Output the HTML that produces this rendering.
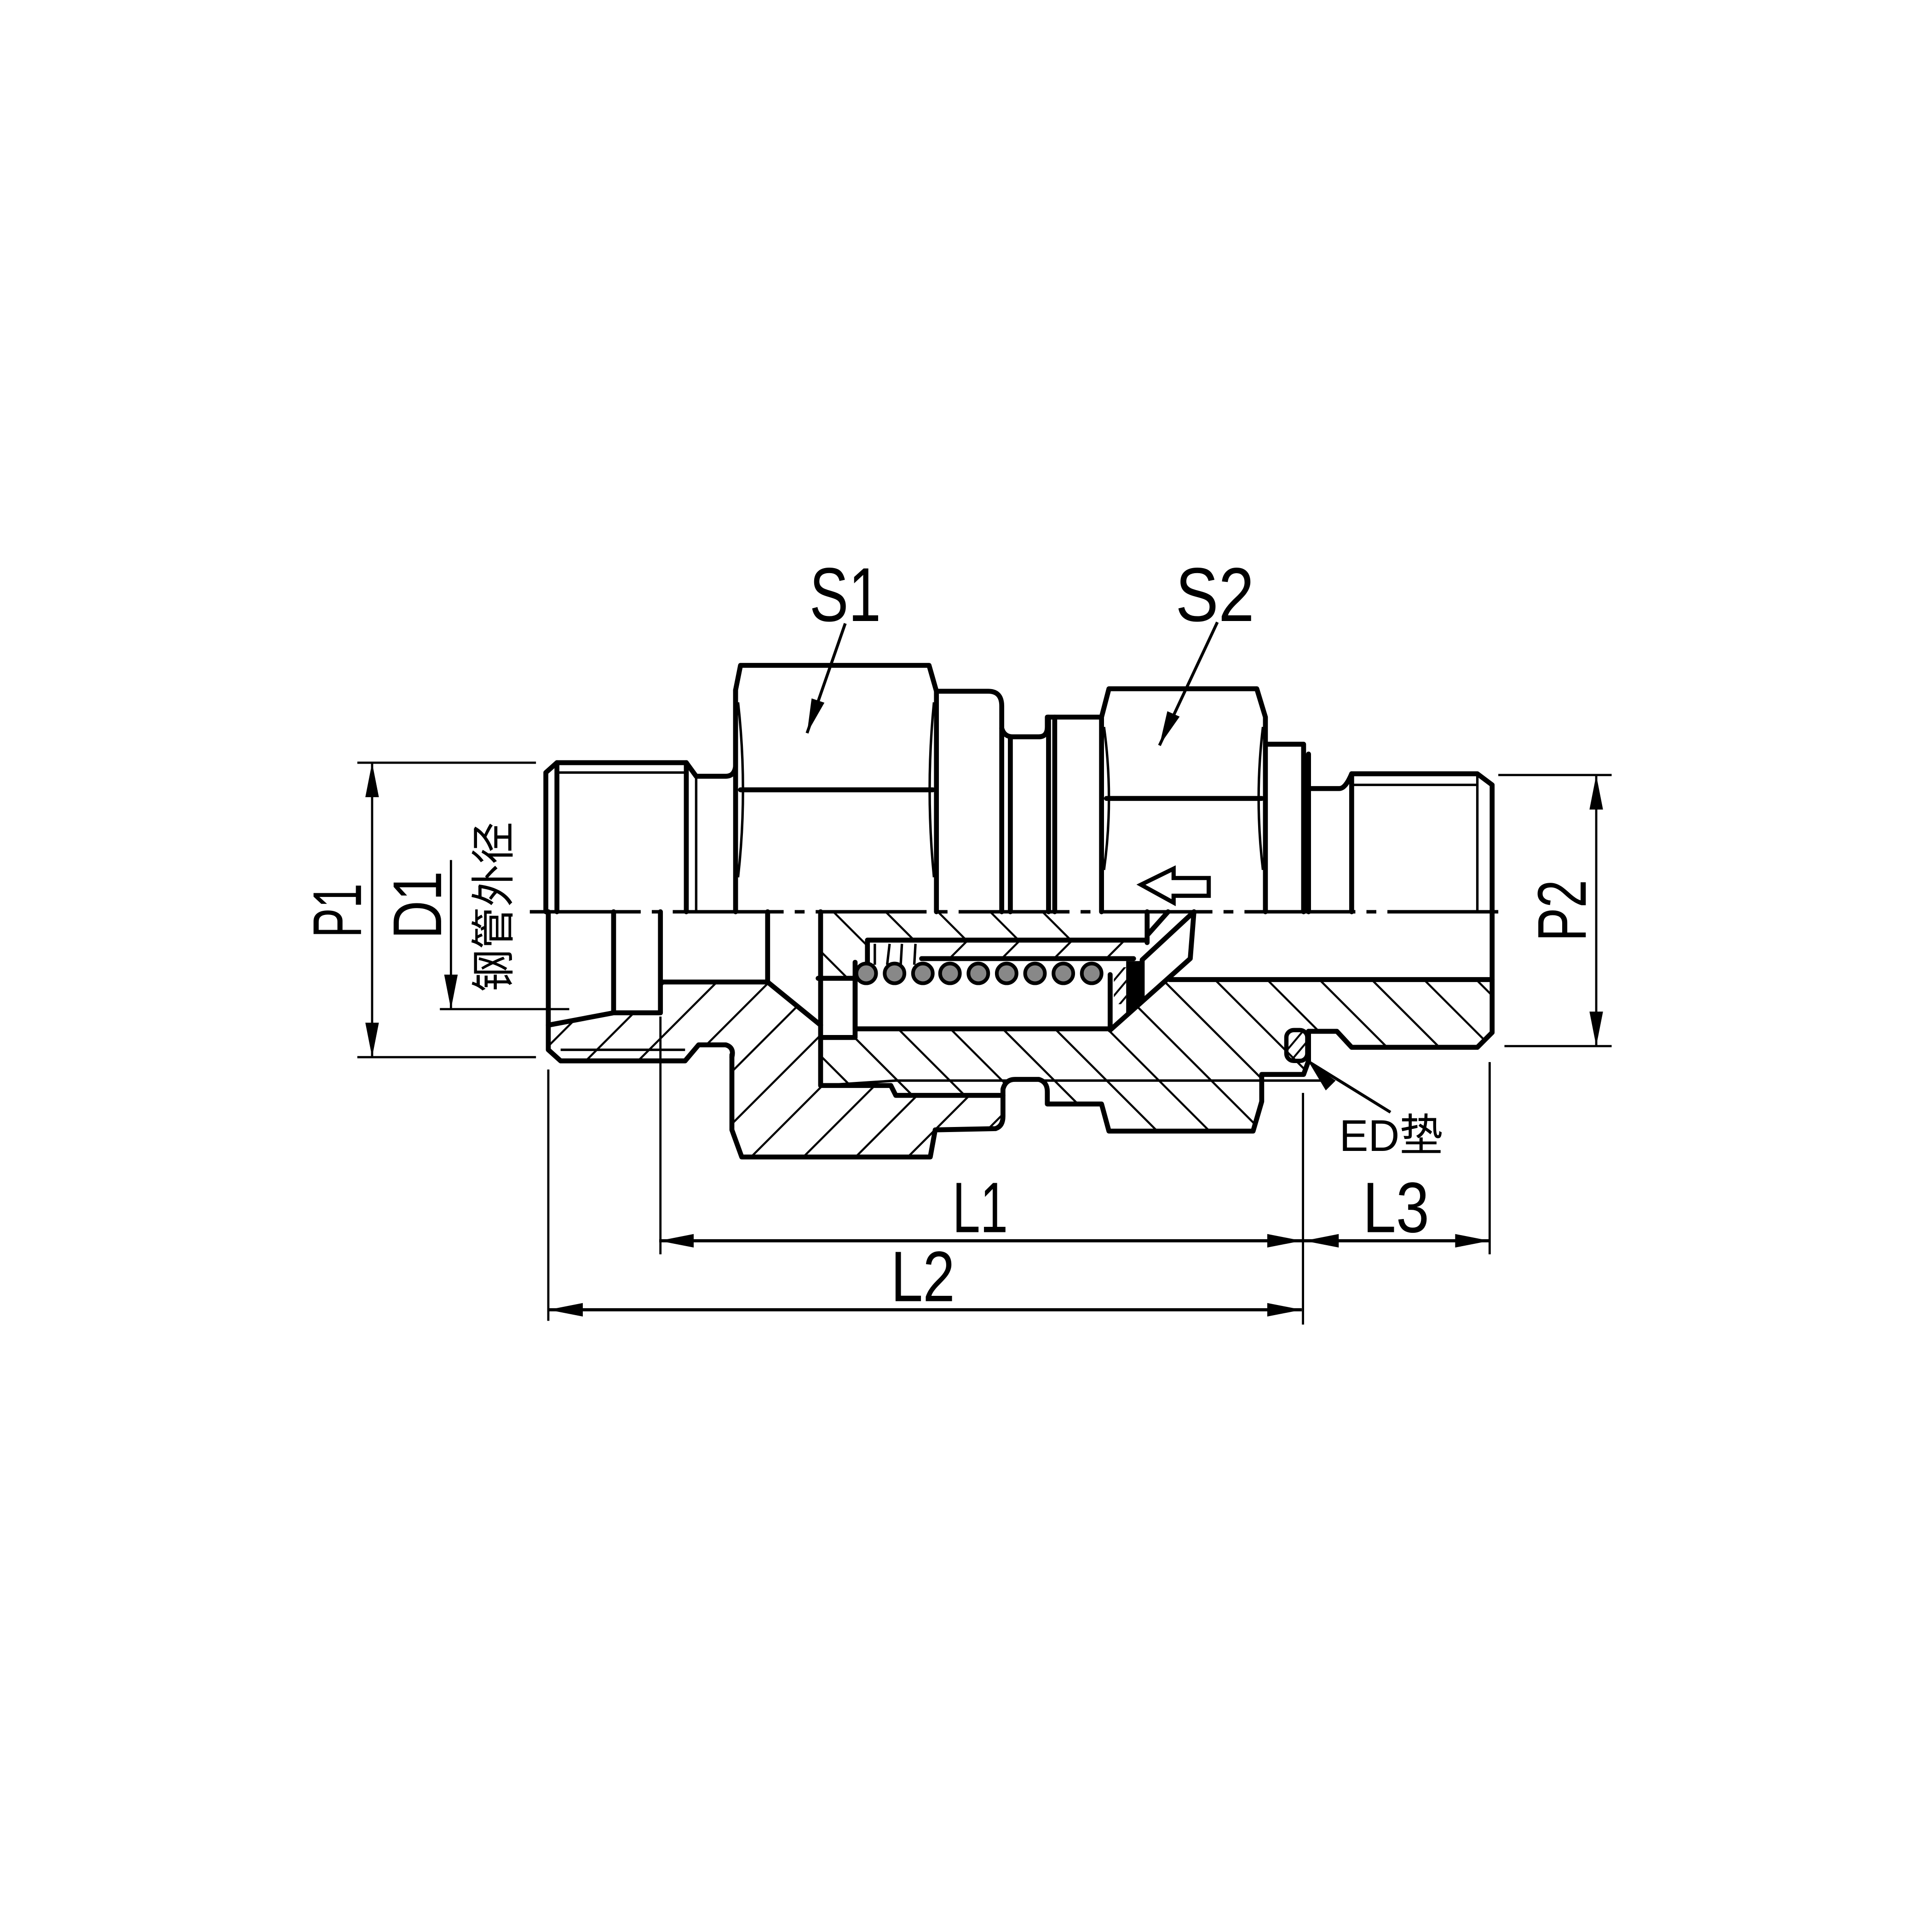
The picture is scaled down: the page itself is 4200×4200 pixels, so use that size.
<!DOCTYPE html>
<html><head><meta charset="utf-8"><style>html,body{margin:0;padding:0;background:#fff}svg{display:block}</style></head>
<body>
<svg xmlns="http://www.w3.org/2000/svg" width="4200" height="4200" viewBox="0 0 1568 1568">
<defs>
<pattern id="hb" patternUnits="userSpaceOnUse" width="30" height="30" patternTransform="rotate(45)"><line x1="-1" y1="15" x2="31" y2="15" stroke="#000" stroke-width="1.7"/></pattern>
<pattern id="hf" patternUnits="userSpaceOnUse" width="30" height="30" patternTransform="rotate(-45)"><line x1="-1" y1="15" x2="31" y2="15" stroke="#000" stroke-width="1.7"/></pattern>
<pattern id="hs" patternUnits="userSpaceOnUse" width="8" height="8" patternTransform="rotate(-50)"><line x1="-1" y1="4" x2="9" y2="4" stroke="#000" stroke-width="1.6"/></pattern>
</defs>
<rect width="1568" height="1568" fill="#fff"/>

<polygon fill="url(#hf)" points="447,831 498,822 536,822 536,797 623,797 666,832 666,881 723,881 727,889 814,889 814,912 808,916 759,917 755,939 602,939 594,917 594,856 589,848 567,848 556,861 455,861 445,852"/>
<polygon fill="url(#hb)" points="666,740 871,740 871,763 704,763 704,781 694,781 694,794 666,794"/>
<polygon fill="url(#hb)" points="666,842 693,842 693,835 901,835 949,795 1211,795 1211,838 1199,850 1097,850 1085,837 1062,837 1062,861 1058,872 1024,872 1024,894 1017,918 900,918 894,896 850,896 850,880 845,876 821,876 814,884 814,889 727,889 723,881 666,881"/>
<polygon fill="url(#hf)" points="748,764 930,764 920,778 748,778"/>
<rect x="904" y="785" width="10" height="30" fill="url(#hs)"/>
<polygon fill="#000" points="914,780 927,780 927,812 914,822"/>

<g fill="none" stroke="#000" stroke-width="4" stroke-linejoin="round" stroke-linecap="round">
<path d="M443,740 L443,627 L452,619 L557,619 L565,630 L589,630 Q596,630 597,622"/>
<path d="M452,619 L452,740 M557,619 L557,740"/>
<path d="M445,740 L445,852 L455,861 L556,861 L567,848 L589,848 Q596,850 594,858"/>
<path d="M498,740 L498,822 M536,740 L536,822 M445,832 L498,822 L536,822"/>
<path d="M537,797 L623,797 L666,832 M623,740 L623,797"/>
<path d="M597,622 L597,560 L601,540 L754,540 L760,561 L760,740"/>
<path d="M597,560 L597,740 M601,641 L757,641"/>
<path d="M760,561 L802,561 Q813,561 813,573 L813,591 Q815,598 822,598 L843,598 Q850,598 850,590 L850,582 L894,582"/>
<path d="M813,591 L813,740 M820,598 L820,740 M851,582 L851,740 M856,582 L856,740"/>
<path d="M894,740 L894,582 L900,559 L1020,559 L1027,582 L1027,740"/>
<path d="M898,648 L1024,648"/>
<path d="M1027,604 L1058,604 L1058,740 M1062,612 L1062,740"/>
<path d="M1062,640 L1087,640 Q1092,640 1097,628 L1199,628 L1211,637 L1211,838 L1199,850 L1097,850 L1085,837 L1062,837"/>
<path d="M1097,628 L1097,740"/>
<path d="M594,856 L594,917 L602,939 L755,939 L759,917 L808,916 Q814,914 814,906 L814,884 Q816,876 824,876 L843,876 Q850,878 850,886 L850,896 L894,896 L900,918 L1017,918 L1024,894 L1024,872 L1058,872 L1062,861 L1062,837"/>
<path d="M666,740 L666,881 L723,881 L727,889 L814,889"/>
<path d="M949,795 L1211,795"/>
<path d="M664,794 L694,794 L694,842 L666,842"/>
<path d="M694,781 L694,835 L901,835 L901,791"/>
<path d="M704,763 L930,763 M704,763 L704,781 M748,778 L920,778"/>
<path d="M969,740 L966,778 L901,836"/>
<path d="M969,740 L927,779 L927,812"/>
<path d="M931,740 L931,765 M948,740 L932,758"/>
</g>
<g fill="none" stroke="#000" stroke-width="2">
<path d="M452,627 L557,627 M565,630 L565,740 M1097,637 L1199,637 M1199,628 L1199,740 M455,852 L556,852"/>
<path d="M599,570 Q607,641 599,712 M758,570 Q751,641 758,712 M896,590 Q904,648 896,706 M1025,590 Q1018,648 1025,706"/>
<path d="M666,881 L727,877 L1080,877"/>
<path d="M710,766 L710,783 M722,766 L720,783 M732,766 L731,783 M743,766 L742,783"/>
</g>
<g stroke="#000" stroke-width="3" fill="#888">
<circle cx="703" cy="790" r="8"/><circle cx="726" cy="790" r="8"/><circle cx="749" cy="790" r="8"/><circle cx="771" cy="790" r="8"/><circle cx="794" cy="790" r="8"/><circle cx="817" cy="790" r="8"/><circle cx="840" cy="790" r="8"/><circle cx="863" cy="790" r="8"/><circle cx="886" cy="790" r="8"/>
</g>
<rect x="1044" y="836" width="17" height="25" rx="6" fill="url(#hs)" stroke="#000" stroke-width="3.5"/>
<polygon points="926,718 952.5,705 952.5,712.6 981,712.6 981,727 952.5,727 952.5,732.6" fill="#fff" stroke="#000" stroke-width="3.4" stroke-linejoin="miter"/>
<line x1="430" y1="740" x2="1218" y2="740" stroke="#000" stroke-width="2.8" stroke-dasharray="90 9 8 9"/>

<g stroke="#000" stroke-width="1.8" fill="none">
<path d="M290,619 L435,619 M290,858 L435,858 M302,619 L302,858"/>
<path d="M366,698 L366,819 M357,819 L462,819"/>
<path d="M1216,629 L1308,629 M1221,849 L1308,849 M1295.5,629 L1295.5,849"/>
<path d="M535,1007 L1209,1007 M445,1063 L1056.5,1063" stroke-width="2.6"/>
<path d="M445,868 L445,1072 M536,825 L536,1018 M1057.5,887 L1057.5,1075 M1209,862 L1209,1018"/>
<path d="M686,506 L655,595 M988,505 L941,605 M1128.5,902.7 L1062,861.6" stroke-width="2.4"/>
</g>
<g fill="#000">
<polygon points="302,619 296.5,647 307.5,647"/><polygon points="302,858 296.5,830 307.5,830"/>
<polygon points="366,819 360.5,791 371.5,791"/>
<polygon points="1295.5,629 1290,657 1301,657"/><polygon points="1295.5,849 1290,821 1301,821"/>
<polygon points="535,1007 563,1001.5 563,1012.5"/><polygon points="1056.5,1007 1028.5,1001.5 1028.5,1012.5"/>
<polygon points="1058.5,1007 1086.5,1001.5 1086.5,1012.5"/><polygon points="1209,1007 1181,1001.5 1181,1012.5"/>
<polygon points="1056.5,1063 1028.5,1057.5 1028.5,1068.5"/><polygon points="445,1063 473,1057.5 473,1068.5"/>
<polygon points="655,595 669.1,570.3 658.7,566.8"/>
<polygon points="941,605 957.4,581.6 947.4,577.2"/>
<polygon points="1062,861.6 1084,877 1076,885"/>
</g>

<g font-family="'Liberation Sans','Noto Sans CJK SC',sans-serif" fill="#000">
<text x="657" y="504" font-size="62" textLength="58" lengthAdjust="spacingAndGlyphs">S1</text>
<text x="954" y="504" font-size="62" textLength="64" lengthAdjust="spacingAndGlyphs">S2</text>
<text x="773" y="1000" font-size="58" textLength="45" lengthAdjust="spacingAndGlyphs">L1</text>
<text x="1106" y="1000" font-size="58" textLength="54" lengthAdjust="spacingAndGlyphs">L3</text>
<text x="723" y="1056" font-size="58" textLength="52" lengthAdjust="spacingAndGlyphs">L2</text>
<text transform="translate(293,761) rotate(-90)" font-size="56" textLength="44" lengthAdjust="spacingAndGlyphs">P1</text>
<text transform="translate(358,762) rotate(-90)" font-size="56" textLength="55" lengthAdjust="spacingAndGlyphs">D1</text>
<text transform="translate(1287,764) rotate(-90)" font-size="56" textLength="50" lengthAdjust="spacingAndGlyphs">P2</text>
<text transform="translate(413,805) rotate(-90)" font-size="36" textLength="138" lengthAdjust="spacingAndGlyphs">钢管外径</text>
<text x="1087" y="934" font-size="36" textLength="84" lengthAdjust="spacingAndGlyphs">ED垫</text>
</g>
</svg>
</body></html>
